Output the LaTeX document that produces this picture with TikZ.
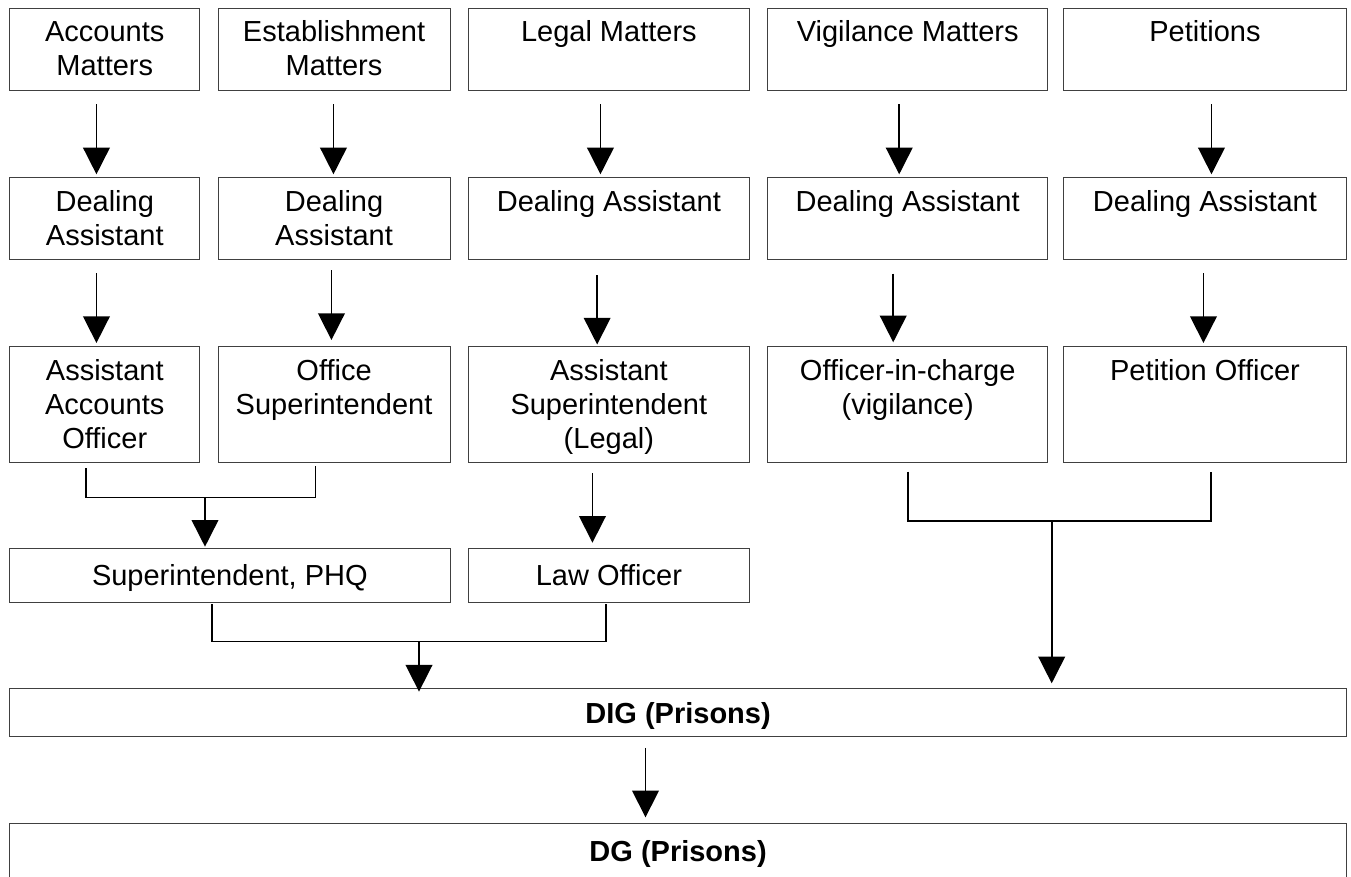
\documentclass[tikz,border=0pt]{standalone}
\usepackage{fontspec}
\setmainfont{Liberation Sans}
\usetikzlibrary{arrows.meta,calc}
\tikzset{
  box/.style={draw=black!75, line width=0.9pt, rectangle, inner sep=0pt, anchor=north west},
  lbl/.style={font=\fontsize{29}{34}\selectfont, align=center, inner sep=0pt, anchor=base},
  lblb/.style={lbl, font=\fontsize{29}{34}\selectfont\bfseries},
  arr/.style={line width=1.6pt, -{Triangle[length=26.7pt,width=26.7pt]}},
  brk/.style={line width=1.1pt},
}
\begin{document}
\begin{tikzpicture}[x=1pt,y=-1pt]
\useasboundingbox (0,0) rectangle (1351,876);
% row 1
\node[box, minimum width=190pt,   minimum height=81.7pt] (acc) at (9.3,8.3) {};
\node[box, minimum width=231.8pt, minimum height=81.7pt] (est) at (217.7,8.3) {};
\node[box, minimum width=280.2pt, minimum height=81.7pt] (leg) at (468.3,8.3) {};
\node[box, minimum width=280.1pt, minimum height=81.7pt] (vig) at (767.2,8.3) {};
\node[box, minimum width=283pt,   minimum height=81.7pt] (pet) at (1063,8.3) {};
% row 2
\node[box, minimum width=190pt,   minimum height=82pt] (da1) at (9.3,177.3) {};
\node[box, minimum width=231.8pt, minimum height=82pt] (da2) at (217.7,177.3) {};
\node[box, minimum width=280.2pt, minimum height=82pt] (da3) at (468.3,177.3) {};
\node[box, minimum width=280.1pt, minimum height=82pt] (da4) at (767.2,177.3) {};
\node[box, minimum width=283pt,   minimum height=82pt] (da5) at (1063,177.3) {};
% row 3
\node[box, minimum width=190pt,   minimum height=115.7pt] (aao) at (9.3,346) {};
\node[box, minimum width=231.8pt, minimum height=115.7pt] (os)  at (217.7,346) {};
\node[box, minimum width=280.2pt, minimum height=115.7pt] (asl) at (468.3,346) {};
\node[box, minimum width=280.1pt, minimum height=115.7pt] (oic) at (767.2,346) {};
\node[box, minimum width=283pt,   minimum height=115.7pt] (po)  at (1063,346) {};
% row 4
\node[box, minimum width=440.2pt, minimum height=54pt] (phq) at (9.3,548) {};
\node[box, minimum width=280.2pt, minimum height=54pt] (law) at (468.3,548) {};
% DIG, DG
\node[box, minimum width=1336.7pt, minimum height=48pt] (dig) at (9.3,688.3) {};
\node[box, minimum width=1336.7pt, minimum height=56pt] (dg)  at (9.3,822.7) {};

% texts (anchor=base is the baseline of the last line)
\node[lbl] (acc-t) at ([yshift=-67.6pt]acc.north) {Accounts\\Matters};
\node[lbl] (est-t) at ([yshift=-67.6pt]est.north) {Establishment\\Matters};
\node[lbl] (leg-t) at ([yshift=-33.6pt]leg.north) {Legal Matters};
\node[lbl] (vig-t) at ([yshift=-33.6pt]vig.north) {Vigilance Matters};
\node[lbl] (pet-t) at ([yshift=-33.6pt]pet.north) {Petitions};
\node[lbl] (da1-t) at ([yshift=-68.2pt]da1.north) {Dealing\\Assistant};
\node[lbl] (da2-t) at ([yshift=-68.2pt]da2.north) {Dealing\\Assistant};
\node[lbl] (da3-t) at ([yshift=-34.2pt]da3.north) {Dealing Assistant};
\node[lbl] (da4-t) at ([yshift=-34.2pt]da4.north) {Dealing Assistant};
\node[lbl] (da5-t) at ([yshift=-34.2pt]da5.north) {Dealing Assistant};
\node[lbl] (aao-t) at ([yshift=-102pt]aao.north) {Assistant\\Accounts\\Officer};
\node[lbl] (os-t)  at ([yshift=-68pt]os.north)  {Office\\Superintendent};
\node[lbl] (asl-t) at ([yshift=-102pt]asl.north) {Assistant\\Superintendent\\(Legal)};
\node[lbl] (oic-t) at ([yshift=-68pt]oic.north) {Officer-in-charge\\(vigilance)};
\node[lbl] (po-t)  at ([yshift=-34pt]po.north)  {Petition Officer};
\node[lbl] (phq-t) at ([yshift=-37pt]phq.north) {Superintendent, PHQ};
\node[lbl] (law-t) at ([yshift=-37pt]law.north) {Law Officer};
\node[lblb] (dig-t) at ([yshift=-35pt]dig.north) {DIG (Prisons)};
\node[lblb] (dg-t)  at ([yshift=-38.3pt]dg.north) {DG (Prisons)};

% arrows row1 -> row2
\draw[arr, shorten <=13.3pt, shorten >=3pt] ([xshift=-8.3pt]acc.south) -- ([xshift=-8.3pt]da1.north);
\draw[arr, shorten <=13.3pt, shorten >=3pt] ([xshift=-0.6pt]est.south) -- ([xshift=-0.6pt]da2.north);
\draw[arr, shorten <=13.3pt, shorten >=3pt] ([xshift=-8.4pt]leg.south) -- ([xshift=-8.4pt]da3.north);
\draw[arr, shorten <=13.3pt, shorten >=3pt] ([xshift=-8.5pt]vig.south) -- ([xshift=-8.5pt]da4.north);
\draw[arr, shorten <=13.3pt, shorten >=3pt] ([xshift=6.5pt]pet.south) -- ([xshift=6.5pt]da5.north);
% arrows row2 -> row3
\draw[arr, shorten <=13pt, shorten >=3pt] ([xshift=-8.3pt]da1.south) -- ([xshift=-8.3pt]aao.north);
\draw[arr, shorten <=10pt, shorten >=6pt] ([xshift=-2.6pt]da2.south) -- ([xshift=-2.6pt]os.north);
\draw[arr, shorten <=15pt, shorten >=1.5pt] ([xshift=-11.7pt]da3.south) -- ([xshift=-11.7pt]asl.north);
\draw[arr, shorten <=13.3pt, shorten >=3.7pt] ([xshift=-14.5pt]da4.south) -- ([xshift=-14.5pt]oic.north);
\draw[arr, shorten <=13pt, shorten >=3pt] ([xshift=-1.5pt]da5.south) -- ([xshift=-1.5pt]po.north);
% row3 -> law
\draw[arr, shorten <=10.6pt, shorten >=5.3pt] ([xshift=-16.4pt]asl.south) -- ([xshift=-16.4pt]law.north);

% brackets
\coordinate (lbL) at (86,468);
\coordinate (lbR) at (315.3,465.7);
\coordinate (lbJ) at (205,497.3);
\draw[brk] (lbL) |- (lbJ) -| (lbR);
\draw[arr, shorten >=1.3pt] (lbJ) -- (lbJ |- phq.north);

\coordinate (bbL) at (212,604);
\coordinate (bbR) at (606,604);
\coordinate (bbJ) at (419,641.3);
\draw[brk] (bbL) |- (bbJ) -| (bbR);
\draw[arr, shorten >=-3.3pt] (bbJ) -- (bbJ |- dig.north);

\coordinate (rbL) at (908,471.7);
\coordinate (rbR) at (1211,471.7);
\coordinate (rbJ) at (1051.7,521);
\draw[brk] (rbL) |- (rbJ) -| (rbR);
\draw[arr, shorten >=5pt] (rbJ) -- (rbJ |- dig.north);

% DIG -> DG
\draw[arr, shorten <=10.7pt, shorten >=5.4pt] ([xshift=-32.6pt]dig.south) -- ([xshift=-32.6pt]dg.north);
\end{tikzpicture}
\end{document}
